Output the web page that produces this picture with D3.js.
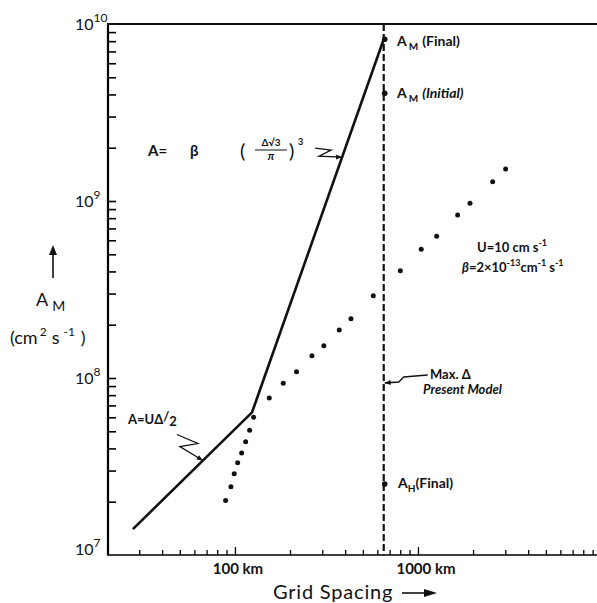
<!DOCTYPE html>
<html>
<head>
<meta charset="utf-8">
<script src="https://d3js.org/d3.v7.min.js"></script>
<style>
  body { margin: 0; background: #fff; }
  text { font-family: Lato, "Open Sans", sans-serif; font-weight: bold; fill: #111; }
</style>
</head>
<body>
<div id="chart"></div>
<script>
var width = 597;
var height = 603;

// grid spacing (km) and A_M of the dotted series
var dotKm = [88.9, 95.1, 99.1, 103.5, 108.8, 114.4, 120.3, 126.5, 154, 183.6, 217, 263.5, 306,
             371.5, 430.5, 570, 801, 1042, 1265, 1648, 1924, 2559, 3013];
var dotA = [2.03e7, 2.43e7, 2.88e7, 3.32e7, 3.77e7, 4.36e7, 5.07e7, 6.0e7, 7.71e7, 9.33e7, 1.085e8, 1.336e8, 1.52e8,
            1.866e8, 2.16e8, 2.92e8, 4.04e8, 5.33e8, 6.32e8, 8.34e8, 9.71e8, 1.285e9, 1.517e9];

// solid line: A=UΔ/2 then A=β(Δ√3/π)^3
var lineKm = [27.7, 124, 650];
var lineA = [1.4e7, 6.4e7, 8.2e9];

// max grid spacing of present model and marked values on it
var maxDeltaKm = 650;
var markA = [8.2e9, 4.06e9, 2.52e7];

var yDecades = [1e7, 1e8, 1e9, 1e10];
var yDecadeExp = ["7", "8", "9", "10"];
var xTickLabels = [{v: 100, t: "100 km"}, {v: 1000, t: "1000 km"}];

var svg = d3.select("#chart").append("svg")
    .attr("width", width)
    .attr("height", height);

var xScale = d3.scaleLog().domain([20, 10000]).range([107, 601]);
var yScale = d3.scaleLog().domain([1e7, 1e10]).range([555, 24]);

// minor tick values 1..9 per decade
var yTicks = yScale.ticks().filter(function(v) { return v > 1e7 && v < 1e10; });
var xTicks = xScale.ticks().filter(function(v) { return v > 20; });

// y axis
var yAxis = d3.axisLeft(yScale).tickValues(yTicks).tickSize(-8).tickFormat("");
var gy = svg.append("g").attr("transform", "translate(108,0)").call(yAxis);
gy.select(".domain").attr("stroke-width", 2.2).attr("d", "M0,24V555");
gy.selectAll(".tick line").attr("stroke-width", 1.6);

// x axis
var xAxis = d3.axisBottom(xScale).tickValues(xTicks).tickSize(-5).tickFormat("");
var gx = svg.append("g").attr("transform", "translate(0,555)").call(xAxis);
gx.select(".domain").attr("stroke-width", 1.6).attr("d", "M107,0H601");
gx.selectAll(".tick line").attr("stroke-width", 1.3)
  .attr("y2", function(d) { return (d == 100 || d == 1000) ? -8 : -5; });

// top border
svg.append("line").attr("x1", 107).attr("x2", 597).attr("y1", 24).attr("y2", 24)
  .attr("stroke", "#111").attr("stroke-width", 2);

// decade labels 10^n
yDecades.forEach(function(v, i) {
  var t = svg.append("text")
    .attr("x", 75).attr("y", yScale(v) + (i == 0 ? 0 : 6))
    .style("font-size", "16px").style("font-weight", "normal");
  t.append("tspan").text("10");
  t.append("tspan").attr("dy", -8).style("font-size", "12px").text(yDecadeExp[i]);
});

xTickLabels.forEach(function(d) {
  svg.append("text").attr("x", xScale(d.v) + (d.v == 100 ? 3 : 8)).attr("y", 574)
    .attr("text-anchor", "middle").style("font-size", "15px").text(d.t);
});

svg.append("text").attr("x", 273).attr("y", 599)
  .style("font-size", "20px").style("letter-spacing", "0.8px").style("font-weight", "normal").text("Grid Spacing");
svg.append("line").attr("x1", 402).attr("x2", 428).attr("y1", 593).attr("y2", 593)
  .attr("stroke", "#111").attr("stroke-width", 1.6);
svg.append("path").attr("d", "M424,589L437,593L424,597Z").attr("fill", "#111");

// y axis title
svg.append("line").attr("x1", 53).attr("x2", 53).attr("y1", 278).attr("y2", 250)
  .attr("stroke", "#111").attr("stroke-width", 1.6);
svg.append("path").attr("d", "M49,255L53,245L57,255Z").attr("fill", "#111");
var am = svg.append("text").attr("x", 36).attr("y", 306).style("font-size", "18px").style("font-weight", "normal");
am.append("tspan").text("A");
am.append("tspan").attr("dx", 4).attr("dy", 5).style("font-size", "14px").text("M");
var un = svg.append("text").attr("x", 10).attr("y", 344).style("font-size", "18px").style("font-weight", "normal");
un.append("tspan").text("(cm");
un.append("tspan").attr("dx", 2).attr("dy", -8).style("font-size", "12px").text("2");
un.append("tspan").attr("dx", 5).attr("dy", 8).text("s");
un.append("tspan").attr("dx", 4).attr("dy", -8).style("font-size", "12px").text("-1");
un.append("tspan").attr("dx", 6).attr("dy", 8).text(")");

// solid line
var pts = lineKm.map(function(k, i) { return [k, lineA[i]]; });
var line = d3.line().x(function(d) { return xScale(d[0]); }).y(function(d) { return yScale(d[1]); });
svg.append("path").datum(pts).attr("d", line)
  .attr("fill", "none").attr("stroke", "#111").attr("stroke-width", 2.6);

// dashed vertical line
svg.append("line")
  .attr("x1", xScale(maxDeltaKm)).attr("x2", xScale(maxDeltaKm))
  .attr("y1", yScale(1e10)).attr("y2", yScale(1e7))
  .attr("stroke", "#111").attr("stroke-width", 2.2).attr("stroke-dasharray", "7,3");

// dots
svg.selectAll("circle.dot").data(dotKm).enter().append("circle")
  .attr("class", "dot")
  .attr("cx", function(d) { return xScale(d); })
  .attr("cy", function(d, i) { return yScale(dotA[i]); })
  .attr("r", 2.5).attr("fill", "#111");

// marked values
svg.selectAll("circle.mark").data(markA).enter().append("circle")
  .attr("class", "mark")
  .attr("cx", xScale(maxDeltaKm) + 1)
  .attr("cy", function(d) { return yScale(d); })
  .attr("r", 2.8).attr("fill", "#111");

function subLabel(x, y, main, sub, rest, italic) {
  var t = svg.append("text").attr("x", x).attr("y", y).style("font-size", "14px");
  t.append("tspan").text(main);
  t.append("tspan").attr("dx", 2).attr("dy", 4).style("font-size", "10px").text(sub);
  var r = t.append("tspan").attr("dx", 4).attr("dy", -4).text(rest);
  if (italic) r.style("font-style", "italic");
}
subLabel(397, yScale(markA[0]) + 7, "A", "M", "(Final)", false);
subLabel(397, yScale(markA[1]) + 5, "A", "M", "(Initial)", true);
var ah = svg.append("text").attr("x", 398).attr("y", yScale(markA[2]) + 4).style("font-size", "14px");
ah.append("tspan").text("A");
ah.append("tspan").attr("dy", 4).style("font-size", "10px").text("H");
ah.append("tspan").attr("dy", -4).text("(Final)");

// point on the solid line at a given spacing (log-log interpolation)
function onLine(k) {
  var i = k < lineKm[1] ? 0 : 1;
  var s = Math.log(lineA[i + 1] / lineA[i]) / Math.log(lineKm[i + 1] / lineKm[i]);
  return [xScale(k), yScale(lineA[i] * Math.pow(k / lineKm[i], s))];
}

// zigzag pointers
function zig(tip, offs) {
  var p = offs.map(function(o) { return [tip[0] + o[0], tip[1] + o[1]]; });
  p.push(tip);
  svg.append("path").attr("d", d3.line()(p)).attr("fill", "none")
    .attr("stroke", "#111").attr("stroke-width", 1.3);
  var a = Math.atan2(tip[1] - p[p.length - 2][1], tip[0] - p[p.length - 2][0]);
  var l = 6, w = 2.5;
  var b = [tip[0] - l * Math.cos(a), tip[1] - l * Math.sin(a)];
  svg.append("path").attr("d", "M" + tip + "L" + [b[0] - w * Math.sin(a), b[1] + w * Math.cos(a)] +
    "L" + [b[0] + w * Math.sin(a), b[1] - w * Math.cos(a)] + "Z").attr("fill", "#111");
}

// A=UΔ/2
var t1 = svg.append("text").attr("x", 128).attr("y", 424).style("font-size", "13px");
t1.append("tspan").text("A=U\u0394");
t1.append("tspan").attr("dy", -3).text("/");
t1.append("tspan").attr("dy", 5).text("2");
zig(onLine(66.8), [[-26, -26], [-5, -17], [-23, -14]]);

// A=β(Δ√3/π)^3
svg.append("text").attr("x", 148).attr("y", 156).style("font-size", "15px").text("A=");
svg.append("text").attr("x", 190).attr("y", 156).style("font-size", "15px").text("\u03B2");
svg.append("text").attr("x", 240).attr("y", 158).style("font-size", "20px").style("font-weight", "normal").text("(");
svg.append("text").attr("x", 271).attr("y", 146).attr("text-anchor", "middle").style("font-size", "10px").text("\u0394\u221A3");
svg.append("line").attr("x1", 255).attr("x2", 287).attr("y1", 150).attr("y2", 150).attr("stroke", "#111").attr("stroke-width", 1);
svg.append("text").attr("x", 271).attr("y", 160).attr("text-anchor", "middle").style("font-size", "11px").style("font-style", "italic").text("\u03C0");
svg.append("text").attr("x", 289).attr("y", 158).style("font-size", "20px").style("font-weight", "normal").text(")");
svg.append("text").attr("x", 298).attr("y", 145).style("font-size", "9px").text("3");
zig(onLine(385), [[-27, -9], [-11, -7], [-23, -1]]);

// constants
var c1 = svg.append("text").attr("x", 477).attr("y", 252).style("font-size", "13px");
c1.append("tspan").text("U=10 cm s");
c1.append("tspan").attr("dy", -6).style("font-size", "9px").text("-1");
var c2 = svg.append("text").attr("x", 462).attr("y", 272).style("font-size", "13px");
c2.append("tspan").style("font-style", "italic").text("\u03B2");
c2.append("tspan").text("=2\u00D710");
c2.append("tspan").attr("dy", -6).style("font-size", "9px").text("-13");
c2.append("tspan").attr("dy", 6).text("cm");
c2.append("tspan").attr("dy", -6).style("font-size", "9px").text("-1");
c2.append("tspan").attr("dy", 6).text(" s");
c2.append("tspan").attr("dy", -6).style("font-size", "9px").text("-1");

// Max. Δ Present Model
svg.append("text").attr("x", 430).attr("y", 379).style("font-size", "13px").text("Max. \u0394");
svg.append("text").attr("x", 423).attr("y", 394).style("font-size", "13px").style("font-style", "italic").text("Present Model");
zig([xScale(maxDeltaKm) + 1, 383], [[43, -8], [19, -6], [14, -1]]);
</script>
</body>
</html>
